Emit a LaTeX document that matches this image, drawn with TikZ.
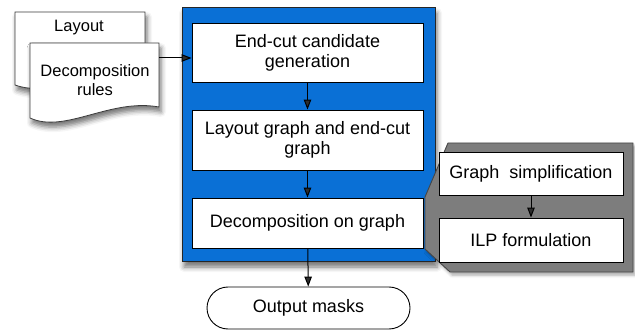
\documentclass[tikz,border=0pt]{standalone}
\usepackage{fontspec}
\setmainfont{Liberation Sans}
\usetikzlibrary{arrows.meta,shadows.blur,shapes.misc}
\definecolor{stageblue}{RGB}{10,112,214}
\definecolor{calloutgray}{RGB}{125,125,125}
\definecolor{calloutedge}{RGB}{70,70,70}
\definecolor{docedge}{RGB}{60,60,60}
\begin{document}
\begin{tikzpicture}[x=1pt,y=-1pt,
  font=\fontsize{18}{20}\selectfont,
  softshadow/.style={blur shadow={shadow xshift=2pt,shadow yshift=-5pt,shadow blur radius=5pt,shadow opacity=55}},
  stepbox/.style={draw=black,line width=0.9pt,fill=white,align=center,inner sep=0pt},
  subbox/.style={stepbox,minimum width=184pt},
  stagebox/.style={draw=black!85,line width=1pt,fill=stageblue,inner sep=0pt,softshadow},
  docshape/.style={draw=docedge,line width=0.8pt,fill=white,softshadow},
  doctext/.style={font=\fontsize{16.5}{19}\selectfont,align=center,inner sep=0pt},
  flow/.style={line width=1pt,-{Triangle[length=10pt,width=7.5pt]}},
  endbox/.style={rounded rectangle,draw=black,line width=0.9pt,fill=white,minimum width=203pt,minimum height=42pt,inner sep=0pt}
]
\useasboundingbox (0,0) rectangle (635,331);

% input documents
\path[docshape] (15,12) -- (145,12) -- (145,76)
  .. controls (105,70) and (50,98) .. (15,85) -- cycle;
\node[doctext] (layout) at (79,28) {Layout};
\path[docshape] (30,43) -- (159,43) -- (159,107)
  .. controls (110,98) and (65,134) .. (30,118) -- cycle;
\node[doctext] (rules) at (95,80) {Decomposition\\rules};
\coordinate (docout) at (159,58);

% main stage container
\node[stagebox,minimum width=253pt,minimum height=254pt] (stage) at (308.5,135) {};

\node[stepbox,minimum width=231pt,minimum height=59pt] (cand) at (307.5,52.5) {End-cut candidate\\generation};
\node[stepbox,minimum width=231pt,minimum height=60pt] (graph) at (307.5,140) {Layout graph and end-cut\\graph};
\node[stepbox,minimum width=231pt,minimum height=50pt] (decomp) at (307.5,223) {Decomposition on graph};

% callout detailing the decomposition step
\filldraw[fill=calloutgray,draw=calloutedge,line width=0.9pt,
  blur shadow={shadow xshift=2pt,shadow yshift=-3pt,shadow blur radius=3pt,shadow opacity=35}]
  (448,143) -- (633,143) -- (633,272) -- (450,272) -- (425,249) -- (425,197) -- cycle;
\node[subbox,minimum height=43pt] (simp) at (531,173.5) {Graph~ simplification};
\node[subbox,minimum height=44pt] (ilp) at (531,240) {ILP formulation};

% output
\node[endbox] (out) at (308.5,308) {Output masks};

% connectors
\draw[flow] (docout) -- (docout -| cand.west);
\draw[flow] (cand) -- (graph);
\draw[flow] (graph) -- (decomp);
\draw[flow] (decomp) -- (out);
\draw[flow] (simp) -- (ilp);
\end{tikzpicture}
\end{document}
